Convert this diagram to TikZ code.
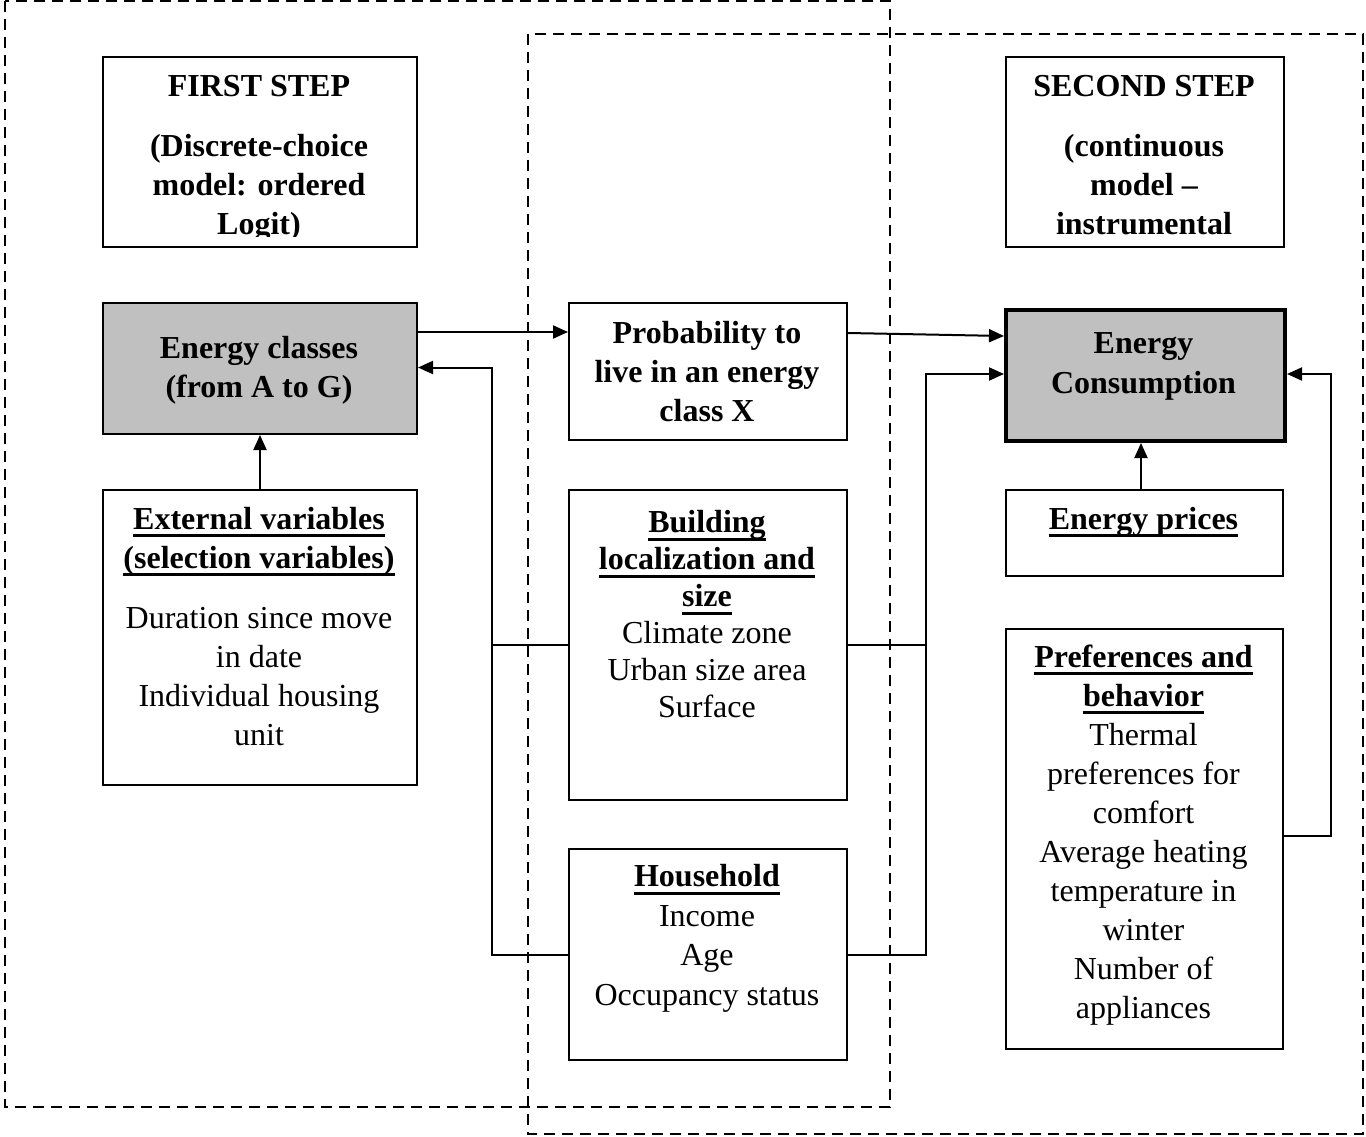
\documentclass[tikz,border=0pt]{standalone}
\usepackage{fontspec}
\setmainfont{Liberation Serif}
\usetikzlibrary{arrows.meta}
\definecolor{boxgray}{RGB}{192,192,192}
\newsavebox\ulbox
\newcommand\ulx[1]{\leavevmode\sbox\ulbox{#1}\rlap{\rule[-8pt]{\wd\ulbox}{3pt}}\usebox\ulbox}
\newcommand\stack[2]{\vtop{\hsize=#1\centering\noindent #2\par}}
\begin{document}
\begin{tikzpicture}[x=1pt,y=-1pt,
  box/.style={draw, line width=2pt, rectangle, inner sep=0pt, anchor=north west},
  graybox/.style={box, fill=boxgray},
  txt/.style={font=\fontsize{32}{39}\selectfont, inner sep=0pt, anchor=base},
  conn/.style={line width=2pt},
  arr/.style={conn, -{Triangle[length=15pt,width=13pt]}},
  region/.style={line width=2pt, dash pattern=on 11pt off 7pt}]
\useasboundingbox (0,0) rectangle (1366,1137);

% dashed regions
\draw[region] (5,1) rectangle (890,1107);
\draw[region] (528,34) rectangle (1363,1134);

% boxes
\node[box, fill=white, minimum width=314pt, minimum height=190pt] (first) at (102,56) {};
\node[box, fill=white, minimum width=278pt, minimum height=190pt] (second) at (1005,56) {};
\node[graybox, minimum width=314pt, minimum height=131pt] (ec) at (102,302) {};
\node[box, fill=white, minimum width=278pt, minimum height=137pt] (prob) at (568,302) {};
\node[graybox, line width=4pt, minimum width=279pt, minimum height=131pt] (cons) at (1004,308) {};
\node[box, fill=white, minimum width=314pt, minimum height=295pt] (ext) at (102,489) {};
\node[box, fill=white, minimum width=278pt, minimum height=310pt] (bld) at (568,489) {};
\node[box, fill=white, minimum width=277pt, minimum height=86pt] (prices) at (1005,489) {};
\node[box, fill=white, minimum width=277pt, minimum height=420pt] (prefs) at (1005,628) {};
\node[box, fill=white, minimum width=278pt, minimum height=211pt] (hh) at (568,848) {};

% texts
\node[txt] (t-first) at (259,96.5) {\bfseries FIRST STEP};
\node[txt] (t-second) at (1144,96.5) {\bfseries SECOND STEP};
\begin{scope}
  \clip (100,100) rectangle (1290,236.5);
  \node[txt] (t-first2) at (259,157) {\stack{310pt}{\bfseries (Discrete-choice\\model: ordered\\Logit)}};
  \node[txt] (t-second2) at (1144,157) {\stack{274pt}{\bfseries (continuous\\model \textendash\\instrumental}};
\end{scope}
\node[txt] (t-ec) at (259,358.3) {\stack{310pt}{\bfseries Energy classes\\(from A to G)}};
\node[txt] (t-prob) at (707,343.3) {\stack{274pt}{\bfseries Probability to\\live in an energy\\class X}};
\node[txt] (t-cons) at (1143.5,353.5) {\stack{274pt}{\fontsize{32}{40}\selectfont\bfseries Energy\\Consumption}};
\node[txt] (t-ext) at (259,529.3) {\stack{310pt}{\bfseries\ulx{External variables}\\\ulx{(selection variables)}\\[21pt]\mdseries Duration since move\\in date\\Individual housing\\unit}};
\node[txt] (t-bld) at (707,532.7) {\stack{274pt}{\fontsize{32}{37}\selectfont\bfseries\ulx{Building}\\\ulx{localization and}\\\ulx{size}\\\mdseries Climate zone\\Urban size area\\Surface}};
\node[txt] (t-prices) at (1143.5,529) {\bfseries\ulx{Energy prices}};
\node[txt] (t-prefs) at (1143.5,667) {\stack{274pt}{\bfseries\ulx{Preferences and}\\\ulx{behavior}\\\mdseries Thermal\\preferences for\\comfort\\Average heating\\temperature in\\winter\\Number of\\appliances}};
\node[txt] (t-hh) at (707,886.7) {\stack{274pt}{\fontsize{32}{39.5}\selectfont\bfseries\ulx{Household}\\\mdseries Income\\Age\\Occupancy status}};

% connectors
\coordinate (lbus) at (492,0);
\coordinate (rbus) at (926,0);
\draw[arr] (ec.east |- 0,332) -- (prob.west |- 0,332);
\draw[arr] (hh.west) -- (hh.west -| lbus) |- (ec.east |- 0,367.5);
\draw[conn] (bld.west) -- (bld.west -| lbus);
\draw[arr] (prob.east |- 0,333) -- (cons.west |- 0,336);
\draw[arr] (hh.east) -- (hh.east -| rbus) |- (cons.west |- 0,374);
\draw[conn] (bld.east) -- (bld.east -| rbus);
\draw[arr] (prices.north -| 1141,0) -- (cons.south -| 1141,0);
\draw[arr] (prefs.east |- 0,836) -| (1331,374) -- (cons.east |- 0,374);
\draw[arr] (ext.north) -- (ec.south);
\end{tikzpicture}
\end{document}
